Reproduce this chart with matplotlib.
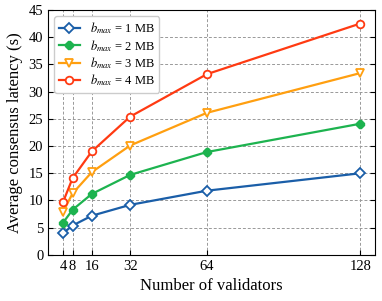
import matplotlib
matplotlib.use("Agg")
import matplotlib.pyplot as plt
import numpy as np

plt.rcParams['font.family'] = 'serif'
plt.rcParams['font.serif'] = ['Liberation Serif', 'DejaVu Serif']
plt.rcParams['mathtext.fontset'] = 'stix'

validators = [4, 8, 16, 32, 64, 128]
lat_1mb = [4.0, 5.4, 7.2, 9.2, 11.8, 15.0]
lat_2mb = [5.9, 8.3, 11.2, 14.7, 18.9, 24.1]
lat_3mb = [7.9, 11.3, 15.2, 20.1, 26.1, 33.4]
lat_4mb = [9.7, 14.1, 19.0, 25.4, 33.2, 42.5]

fig, ax = plt.subplots(figsize=(3.82, 3.01), dpi=100)

ax.plot(validators, lat_1mb, color='#1a5ea8', marker='D', mfc='white', ms=5, mew=1.3, lw=1.6,
        label=r'$b_{max}$ = 1 MB')
ax.plot(validators, lat_2mb, color='#1db34f', marker='8', ms=5.5, lw=1.6,
        label=r'$b_{max}$ = 2 MB')
ax.plot(validators, lat_3mb, color='#ff9f10', marker='v', mfc='white', ms=5.5, mew=1.3, lw=1.6,
        label=r'$b_{max}$ = 3 MB')
ax.plot(validators, lat_4mb, color='#ff3a12', marker='o', mfc='white', ms=5.5, mew=1.3, lw=1.6,
        label=r'$b_{max}$ = 4 MB')

ax.set_xticks(validators)
ax.set_ylim(0, 45)
ax.set_yticks(np.arange(0, 46, 5))
ax.grid(True, linestyle=(0, (3, 2)), color='#999999', lw=0.7)
ax.tick_params(direction='in', right=True, labelsize=10.5)
ax.set_xlabel('Number of validators', fontsize=12)
ax.set_ylabel('Average consensus latency (s)', fontsize=12)
ax.legend(loc='upper left', fontsize=9, framealpha=1, edgecolor='#cccccc',
          labelspacing=0.12, handlelength=1.7, borderpad=0.35)

plt.subplots_adjust(left=0.126, right=0.982, top=0.967, bottom=0.153)
plt.savefig('out.png', dpi=100)
